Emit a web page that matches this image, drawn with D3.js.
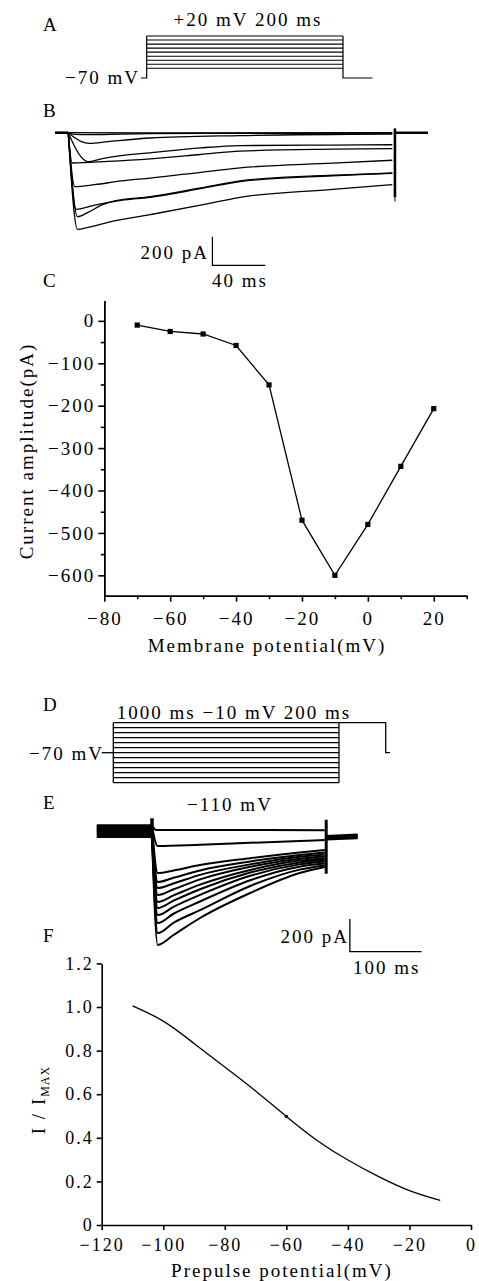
<!DOCTYPE html>
<html>
<head>
<meta charset="utf-8">
<title>Sodium current recordings</title>
<script src="https://d3js.org/d3.v7.min.js"></script>
<style>
  body { margin: 0; background: #fff; }
  svg { display: block; background: #fff; }
  text { font-family: "Liberation Serif", "Times New Roman", serif; font-size: 19px; letter-spacing: 2px; fill: #000; }
  .trace { fill: none; stroke: #000; }
  .axis path, .axis line { stroke: #000; stroke-width: 1.6; }
  .axis text { font-family: "Liberation Serif", "Times New Roman", serif; font-size: 19px; }
  .axisF text { font-size: 18px; }
</style>
</head>
<body>
<svg width="479" height="1281"></svg>
<script>
// ---- A: activation protocol (mV)
var stepPotentials = [-70, -60, -50, -40, -30, -20, -10, 0, 10, 20];

// ---- B: activation current traces, [ms, pA] during the test pulse
var tracesB = [
  [[0,0],[60,-2],[245,0]],
  [[0,0],[5,-12],[15,-14],[60,-7],[130,-4],[245,-3]],
  [[0,0],[5,-35],[10,-62],[16,-74],[30,-62],[62,-37],[130,-20],[245,-9]],
  [[0,0],[4,-80],[9,-160],[15,-202],[25,-182],[40,-160],[62,-140],[100,-106],[130,-90],[200,-86],[245,-84]],
  [[0,0],[3,-211],[30,-200],[62,-182],[100,-152],[130,-128],[200,-115],[245,-111]],
  [[0,0],[5,-376],[20,-362],[40,-336],[62,-316],[100,-276],[130,-245],[200,-212],[245,-192]],
  [[0,0],[6,-534],[20,-505],[40,-472],[62,-450],[100,-390],[130,-340],[200,-300],[245,-281]],
  [[0,0],[7,-585],[15,-555],[25,-505],[35,-475],[62,-446],[100,-385],[130,-335],[200,-296],[245,-283]],
  [[0,0],[7,-673],[15,-660],[30,-625],[62,-571],[100,-505],[130,-450],[200,-395],[245,-362]]
];

// ---- C: I-V relation
var ivVoltage = [-70, -60, -50, -40, -30, -20, -10, 0, 10, 20];
var ivCurrent = [-10, -25, -31, -58, -151, -470, -600, -480, -343, -207];
var ivXTicks = [-80, -60, -40, -20, 0, 20];
var ivXMinor = [-70, -50, -30, -10, 10, 30];
var ivYTicks = [0, -100, -200, -300, -400, -500, -600];
var ivYMinor = [-50, -150, -250, -350, -450, -550];

// ---- D: inactivation protocol (mV)
var prepulsePotentials = [-130, -120, -110, -100, -90, -80, -70, -60, -50, -40, -30, -20, -10];

// ---- E: inactivation current traces, [ms, pA] (first point = holding current)
var tracesE = [
  [[0,40],[6,12],[120,12],[241,10]],
  [[0,36],[8,-86],[67,-78],[137,-66],[206,-55],[241,-49]],
  [[0,30],[8,-251],[30,-235],[67,-202],[137,-160],[206,-125],[241,-110]],
  [[0,25],[8,-306],[30,-280],[67,-235],[137,-180],[206,-140],[241,-125]],
  [[0,18],[8,-343],[30,-315],[67,-262],[137,-198],[206,-152],[241,-138]],
  [[0,12],[8,-385],[30,-350],[67,-290],[137,-213],[206,-163],[241,-150]],
  [[0,6],[8,-428],[30,-388],[67,-322],[137,-232],[206,-175],[241,-160]],
  [[0,0],[8,-465],[30,-420],[67,-350],[137,-248],[206,-186],[241,-170]],
  [[0,-6],[8,-508],[30,-458],[67,-385],[137,-268],[206,-198],[241,-180]],
  [[0,-14],[8,-557],[30,-500],[67,-425],[137,-295],[206,-212],[241,-193]],
  [[0,-22],[8,-618],[30,-555],[67,-478],[137,-330],[206,-230],[241,-205]],
  [[0,-30],[8,-691],[30,-630],[67,-526],[137,-373],[206,-251],[241,-214]]
];
var tailE = [-25, -35, -45];

// ---- F: steady-state inactivation
var inactVoltage = [-110, -100, -90, -80, -70, -60, -50, -40, -30, -20, -10];
var inactRatio = [1.005, 0.935, 0.833, 0.725, 0.615, 0.498, 0.388, 0.298, 0.222, 0.158, 0.113];
var inactXTicks = [-120, -100, -80, -60, -40, -20, 0];
var inactYTicks = [0, 0.2, 0.4, 0.6, 0.8, 1.0, 1.2];

var svg = d3.select("svg");

function path(xs, ys, pts, curve, width) {
  var ln = d3.line().x(function(d){ return xs(d[0]); }).y(function(d){ return ys(d[1]); });
  if (curve) ln.curve(curve);
  return svg.append("path").attr("class", "trace").attr("d", ln(pts))
    .attr("stroke-width", width || 1.2);
}
function label(txt, x, y, anchor) {
  return svg.append("text").attr("x", x).attr("y", y)
    .attr("text-anchor", anchor || "start").text(txt);
}

// ================= A =================
var xA = d3.scaleLinear().domain([0, 200]).range([146.7, 343]);
var yA = d3.scaleLinear().domain([-70, -60, 20]).range([78, 68.3, 36]);
path(xA, yA, [[-6,-70],[0,-70],[0,20]], null, 1.2);
path(xA, yA, [[200,20],[200,-70],[230,-70]], null, 1.2);
stepPotentials.filter(function(v){ return v > -70; }).forEach(function(v){
  path(xA, yA, [[0,v],[200,v]], null, 1.1);
});
label("A", 43, 31);
label("+20 mV 200 ms", 248, 26, "middle");
label("\u221270 mV", 140, 83.5, "end");

// ================= B =================
var xB = d3.scaleLinear().domain([-10, 272]).range([55, 428]);
var yB = d3.scaleLinear().domain([0, -700]).range([132.7, 233.15]);
path(xB, yB, [[-10,0],[0,0]], null, 2.6);
path(xB, yB, [[247,0],[272,0]], null, 2.6);
tracesB.forEach(function(tr){
  path(xB, yB, tr, d3.curveMonotoneX, 1.3);
});
path(xB, yB, [[247,30],[247,-450]], null, 2.6);
path(xB, yB, [[247,-450],[247,-480]], null, 1);
// scale bar 200 pA / 40 ms
path(xB, yB, [[109,-725],[109,-925],[149,-925]], null, 1.2);
label("B", 43, 117);
label("200 pA", 209, 258.5, "end");
label("40 ms", xB(129) + 1, 287, "middle");
label("C", 43, 287);

// ================= C =================
var xC = d3.scaleLinear().domain([-80, 30]).range([104.3, 466.7]);
var yC = d3.scaleLinear().domain([-648, 48]).range([595.7, 300.5]);
var fmt = d3.format("d");

svg.append("g").attr("class", "axis").attr("transform", "translate(0,595.7)")
  .call(d3.axisBottom(xC).tickValues(ivXMinor).tickSize(3.5).tickSizeOuter(0).tickFormat(""));
svg.append("g").attr("class", "axis").attr("transform", "translate(0,595.7)")
  .call(d3.axisBottom(xC).tickValues(ivXTicks).tickSize(6).tickSizeOuter(0).tickPadding(10).tickFormat(fmt));
svg.append("g").attr("class", "axis").attr("transform", "translate(104.3,0)")
  .call(d3.axisLeft(yC).tickValues(ivYMinor).tickSize(3.5).tickSizeOuter(0).tickFormat(""));
svg.append("g").attr("class", "axis").attr("transform", "translate(104.3,0)")
  .call(d3.axisLeft(yC).tickValues(ivYTicks).tickSize(6).tickSizeOuter(0).tickPadding(3).tickFormat(fmt));
svg.selectAll(".axis text").attr("fill", "#000").style("letter-spacing", "2px");

var ivPts = ivVoltage.map(function(v, i){ return [v, ivCurrent[i]]; });
path(xC, yC, ivPts, null, 1.3);
svg.selectAll(".ivpt").data(ivPts).enter().append("rect")
  .attr("class", "ivpt")
  .attr("x", function(d){ return xC(d[0]) - 2.6; })
  .attr("y", function(d){ return yC(d[1]) - 2.6; })
  .attr("width", 5.2).attr("height", 5.2).attr("fill", "#000");

label("Membrane potential(mV)", 267, 652, "middle");
svg.append("text").attr("transform", "translate(32.5,451) rotate(-90)")
  .attr("text-anchor", "middle").text("Current amplitude(pA)");

// ================= D =================
var xD = d3.scaleLinear().domain([-20, 0, 1000, 1200, 1220]).range([101.7, 113.3, 339, 385.7, 390]);
var yD = d3.scaleLinear().domain([-130, -10]).range([782.7, 722.7]);
path(xD, yD, [[-20,-70],[0,-70]], null, 1.3);
path(xD, yD, [[0,-130],[0,-10]], null, 1.3);
path(xD, yD, [[1000,-130],[1000,-10]], null, 1.3);
prepulsePotentials.forEach(function(v){
  path(xD, yD, [[0,v],[1000,v]], null, 1.3);
});
path(xD, yD, [[1000,-10],[1200,-10],[1200,-70],[1220,-70]], null, 1.3);
label("D", 43, 711);
label("1000 ms \u221210 mV 200 ms", 234, 718.5, "middle");
label("\u221270 mV", 104, 760, "end");
label("E", 43, 808.5);
label("\u2212110 mV", 230, 811, "middle");

// ================= E =================
var xE = d3.scaleLinear().domain([0, 243]).range([152, 326.2]);
var yE = d3.scaleLinear().domain([0, -700]).range([832, 946.45]);
tracesE.forEach(function(tr){
  path(xE, yE, [[-77, tr[0][1]], [0, tr[0][1]]], null, 2.2);
});
tracesE.forEach(function(tr){
  path(xE, yE, tr, d3.curveMonotoneX, 2);
});
tailE.forEach(function(v){
  path(xE, yE, [[243, v], [287, v + 8]], null, 2.4);
});
path(xE, yE, [[0,84],[0,-40]], null, 3.5);
path(xE, yE, [[243,75],[243,-255]], null, 3);
// scale bar 200 pA / 100 ms
path(xE, yE, [[276,-532],[276,-732],[376,-732]], null, 1.3);
label("200 pA", 349, 943, "end");
label("100 ms", xE(326) + 1, 973.5, "middle");
label("F", 43, 942);

// ================= F =================
var xF = d3.scaleLinear().domain([-120, 0]).range([101.7, 471]);
var yF = d3.scaleLinear().domain([0, 1.2]).range([1225, 963.4]);
svg.append("g").attr("class", "axis axisF").attr("transform", "translate(0,1225)")
  .call(d3.axisBottom(xF).tickValues(inactXTicks).tickSize(5).tickSizeOuter(0).tickPadding(8).tickFormat(fmt));
svg.append("g").attr("class", "axis axisF").attr("transform", "translate(101.7,0)")
  .call(d3.axisLeft(yF).tickValues(inactYTicks).tickSize(5).tickSizeOuter(0).tickPadding(3)
    .tickFormat(function(d){ return d === 0 ? "0" : d3.format(".1f")(d); }));
svg.selectAll(".axis text").attr("fill", "#000").style("letter-spacing", "2px");

var inactPts = inactVoltage.map(function(v, i){ return [v, inactRatio[i]]; });
path(xF, yF, inactPts, d3.curveNatural, 1.3);
svg.append("circle").attr("cx", xF(-60)).attr("cy", yF(0.498)).attr("r", 1.8).attr("fill", "#000");

label("Prepulse potential(mV)", 282, 1277, "middle");
var yl = svg.append("text").attr("transform", "translate(45,1100) rotate(-90)")
  .attr("text-anchor", "middle");
yl.append("tspan").text("I / I");
yl.append("tspan").attr("dy", 4).style("font-size", "12px").style("letter-spacing", "1px").text("MAX");
</script>
</body>
</html>
